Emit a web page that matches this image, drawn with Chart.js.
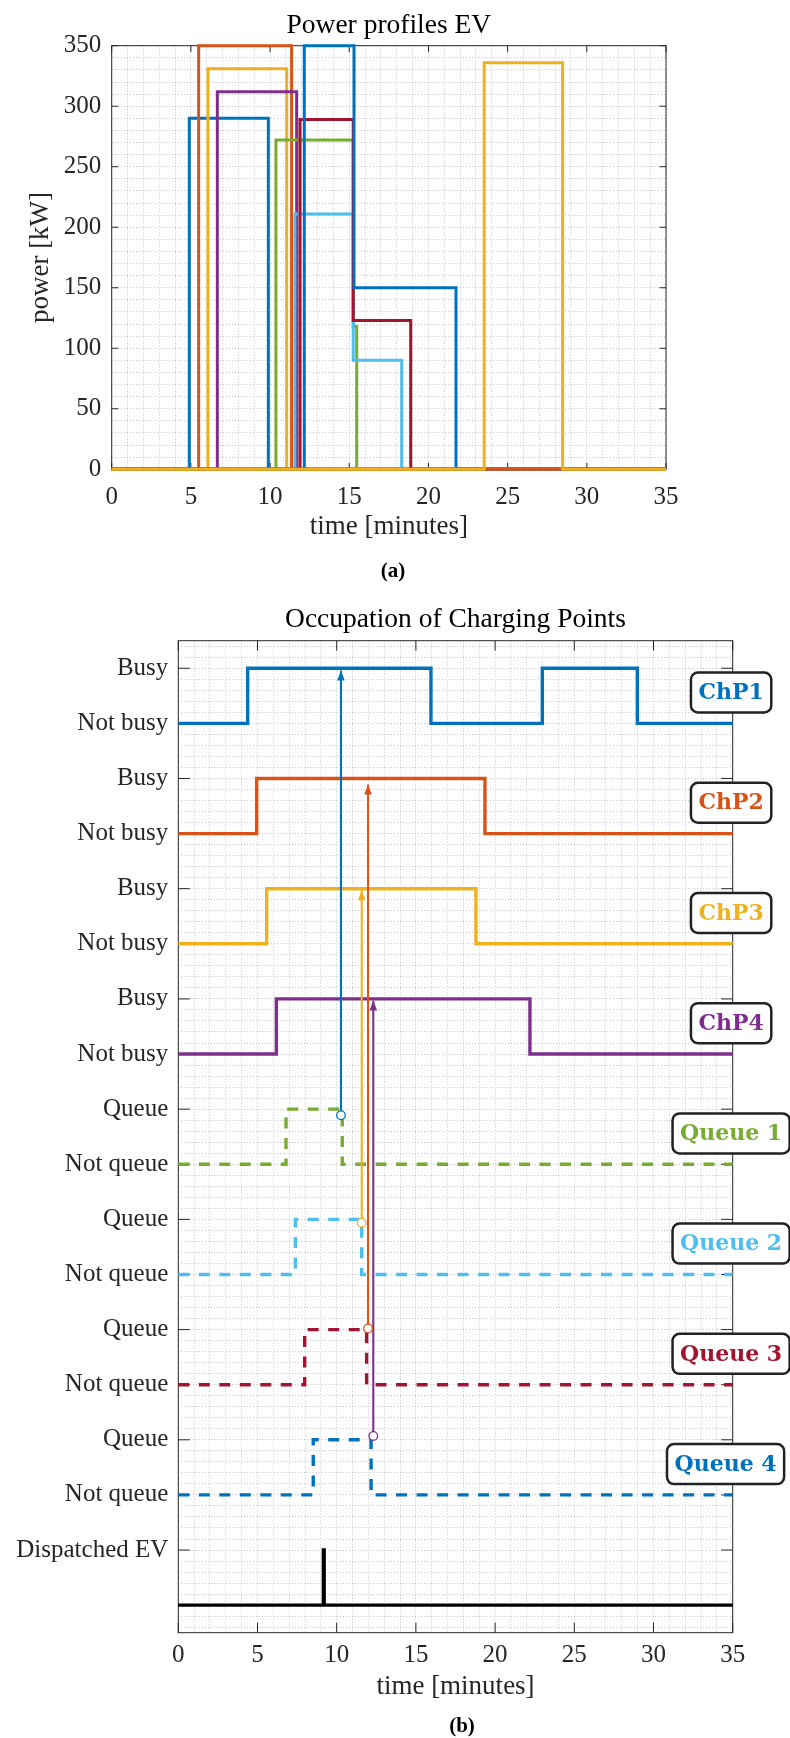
<!DOCTYPE html>
<html><head><meta charset="utf-8">
<script src="https://cdn.jsdelivr.net/npm/chart.js@4"></script>
<style>
html,body{margin:0;padding:0;background:#fff;}
#wrap{position:relative;width:790px;height:1738px;overflow:hidden;}
canvas{position:absolute;left:0;}
#c1{top:0;} #c2{top:590px;}
</style></head><body>
<div id="wrap"><canvas id="c1" width="790" height="590"></canvas><canvas id="c2" width="790" height="1148"></canvas></div>
<script>
// ---------------- data ----------------
const xMin = 0, xMax = 35;
const xMajorTicks = [0, 5, 10, 15, 20, 25, 30, 35];
const powerTicks = [0, 50, 100, 150, 200, 250, 300, 350];

// Power profiles: switching times (minutes) and power levels (kW) per EV
const evSwitchTimes = [
  [4.90, 9.89],
  [5.49, 11.36],
  [6.08, 11.05],
  [6.67, 11.68],
  [10.37, 15.25, 15.47],
  [11.57, 15.25, 18.31],
  [11.89, 15.25, 18.88],
  [12.16, 15.30, 21.74],
  [],
  [23.52, 28.47]
];
const evPowerLevels = [
  [290], [350], [331], [312], [272, 118], [211, 90], [289, 123], [350, 150], [], [336]
];
const evColors = ['#0072BD','#D95319','#EDB120','#7E2F8E','#77AC30','#4DBEEE','#A2142F','#0072BD','#D95319','#EDB120'];

// Occupation chart
const stateNames = ['ChP1','ChP2','ChP3','ChP4','Queue 1','Queue 2','Queue 3','Queue 4','Dispatched EV'];
const stateSwitchTimes = [
  [4.38, 15.95, 22.98, 28.98],
  [4.95, 19.36],
  [5.58, 18.79],
  [6.19, 22.20],
  [6.80, 10.35],
  [7.39, 11.58],
  [7.98, 11.89],
  [8.52, 12.17],
  [9.16, 9.21]
];
const stateLowLevels = [16, 14, 12, 10, 8, 6, 4, 2, 0];
const stateDashed = [false, false, false, false, true, true, true, true, false];
const stateColors = ['#0072BD','#D95319','#EDB120','#7E2F8E','#77AC30','#4DBEEE','#A2142F','#0072BD','#000000'];
const occTickValues = [1,2,3,4,5,6,7,8,9,10,11,12,13,14,15,16,17];
const occTickLabels = ['Dispatched EV','Not queue','Queue','Not queue','Queue','Not queue','Queue','Not queue','Queue',
  'Not busy','Busy','Not busy','Busy','Not busy','Busy','Not busy','Busy'];
const arrowTimes = [10.27, 11.98, 11.58, 12.31];
const arrowFrom  = [8.89, 5.02, 6.94, 3.07];
const arrowTo    = [16.96, 14.89, 12.97, 10.97];
const arrowColors = ['#0072BD','#D95319','#EDB120','#7E2F8E'];
const boxLabels = ['ChP1','ChP2','ChP3','ChP4','Queue 1','Queue 2','Queue 3','Queue 4'];
const boxTimes  = [34.9, 34.9, 34.9, 34.9, 34.9, 34.9, 34.9, 34.55];

// ---------------- helpers ----------------
const AXIS = '#262626';
const GRID = 'rgba(0,0,0,0.22)';
const SERIF = '"Liberation Serif", "Times New Roman", serif';
const xGrid = Array.from({length: 36}, (_, i) => i);
const yGridTop = Array.from({length: 36}, (_, i) => i * 10);
const yGridOcc = Array.from({length: 90}, (_, i) => Math.round((i - 2) * 2) / 10);

function evPoints(times, levels) {
  const pts = [{x: xMin, y: 0}];
  if (times.length) {
    pts.push({x: times[0], y: 0});
    for (let k = 0; k < levels.length; k++) {
      pts.push({x: times[k], y: levels[k]});
      pts.push({x: times[k + 1], y: levels[k]});
    }
    pts.push({x: times[times.length - 1], y: 0});
  }
  pts.push({x: xMax, y: 0});
  return pts;
}
function statePoints(times, low) {
  let lvl = low;
  const pts = [{x: xMin, y: lvl}];
  for (const t of times) {
    pts.push({x: t, y: lvl});
    lvl = (lvl === low) ? low + 1 : low;
    pts.push({x: t, y: lvl});
  }
  pts.push({x: xMax, y: lvl});
  return pts;
}

function framePlugin(xMaj, yMaj, tl, tlx) {
  return {
    id: 'frame',
    beforeDatasetsDraw(chart) {
      const {ctx, chartArea: a} = chart;
      const xs = chart.scales.x, ys = chart.scales.y;
      ctx.save();
      ctx.strokeStyle = AXIS; ctx.lineWidth = 1;
      ctx.strokeRect(a.left, a.top, a.right - a.left, a.bottom - a.top);
      ctx.beginPath();
      for (const v of xMaj) {
        const p = xs.getPixelForValue(v);
        ctx.moveTo(p, a.bottom); ctx.lineTo(p, a.bottom - tlx);
        ctx.moveTo(p, a.top); ctx.lineTo(p, a.top + tlx);
      }
      for (const v of yMaj) {
        const p = ys.getPixelForValue(v);
        ctx.moveTo(a.left, p); ctx.lineTo(a.left + tl, p);
        ctx.moveTo(a.right, p); ctx.lineTo(a.right - tl, p);
      }
      ctx.stroke();
      ctx.restore();
    }
  };
}
function textPlugin(cfg) {
  return {
    id: 'texts',
    afterDraw(chart) {
      const {ctx, chartArea: a} = chart;
      const cx = (a.left + a.right) / 2;
      ctx.save();
      ctx.fillStyle = '#000';
      ctx.textAlign = 'center';
      ctx.textBaseline = 'alphabetic';
      ctx.font = '27.5px ' + SERIF;
      ctx.fillText(cfg.title, cx, cfg.titleY);
      ctx.fillStyle = AXIS;
      ctx.font = '27px ' + SERIF;
      ctx.fillText(cfg.xTitle, cx, cfg.xTitleY);
      if (cfg.yTitle) {
        ctx.save();
        ctx.translate(cfg.yTitleX, (a.top + a.bottom) / 2);
        ctx.rotate(-Math.PI / 2);
        ctx.textBaseline = 'middle';
        ctx.fillText(cfg.yTitle, 0, 0);
        ctx.restore();
      }
      ctx.fillStyle = '#000';
      ctx.font = 'bold 21px ' + SERIF;
      ctx.fillText(cfg.caption, cfg.captionX, cfg.captionY);
      ctx.restore();
    }
  };
}

const tickFont = {family: SERIF, size: 25};

// ---------------- chart (a) ----------------
new Chart(document.getElementById('c1'), {
  type: 'line',
  data: {
    datasets: evSwitchTimes.map((t, i) => ({
      data: evPoints(t, evPowerLevels[i]),
      borderColor: evColors[i], borderWidth: 3,
      pointRadius: 0, fill: false, clip: false, order: -i
    }))
  },
  options: {
    responsive: false, animation: false, devicePixelRatio: 1,
    layout: {padding: {left: 0, right: 124, top: 45.7, bottom: 0}},
    plugins: {legend: {display: false}, tooltip: {enabled: false}, title: {display: false}},
    scales: {
      x: {
        type: 'linear', min: xMin, max: xMax,
        afterBuildTicks: s => { s.ticks = xGrid.map(v => ({value: v})); },
        afterFit: s => { s.height = 590 - 469.3; },
        ticks: {autoSkip: false, maxRotation: 0, padding: 13.4, font: tickFont, color: AXIS,
          callback: v => xMajorTicks.includes(v) ? String(v) : ''},
        grid: {color: GRID, lineWidth: 1, drawTicks: false},
        border: {display: false, dash: [1, 2]}
      },
      y: {
        type: 'linear', min: 0, max: 350,
        afterBuildTicks: s => { s.ticks = yGridTop.map(v => ({value: v})); },
        afterFit: s => { s.width = 111.7; },
        ticks: {autoSkip: false, padding: 10.4, font: tickFont, color: AXIS,
          callback: v => powerTicks.includes(v) ? String(v) : ''},
        grid: {color: GRID, lineWidth: 1, drawTicks: false},
        border: {display: false, dash: [1, 2]}
      }
    }
  },
  plugins: [framePlugin(xMajorTicks, powerTicks, 6.5, 6.5),
    textPlugin({title: 'Power profiles EV', titleY: 32.5, xTitle: 'time [minutes]', xTitleY: 534,
      yTitle: 'power [kW]', yTitleX: 41, caption: '(a)', captionX: 393, captionY: 577})]
});

// ---------------- chart (b) ----------------
const arrowHeadPlugin = {
  id: 'arrowHeads',
  afterDatasetsDraw(chart) {
    const ctx = chart.ctx;
    chart.data.datasets.forEach((ds, i) => {
      if (!ds.arrowHead) return;
      const meta = chart.getDatasetMeta(i);
      const tip = meta.data[meta.data.length - 1];
      ctx.save();
      ctx.fillStyle = ds.borderColor;
      ctx.beginPath();
      ctx.moveTo(tip.x, tip.y);
      ctx.lineTo(tip.x - 3.8, tip.y + 10);
      ctx.lineTo(tip.x + 3.8, tip.y + 10);
      ctx.closePath();
      ctx.fill();
      ctx.restore();
    });
  }
};
const boxPlugin = {
  id: 'boxes',
  afterDraw(chart) {
    const ctx = chart.ctx;
    const xs = chart.scales.x, ys = chart.scales.y;
    ctx.save();
    ctx.font = 'bold 22px "DejaVu Serif", serif';
    ctx.textAlign = 'center';
    ctx.textBaseline = 'middle';
    boxLabels.forEach((lab, i) => {
      const cx = xs.getPixelForValue(boxTimes[i]);
      const cy = ys.getPixelForValue(stateLowLevels[i] + 0.56);
      const w = ctx.measureText(lab).width + 15, h = 40;
      ctx.beginPath();
      ctx.roundRect(cx - w / 2, cy - h / 2, w, h, 7);
      ctx.fillStyle = '#fff';
      ctx.fill();
      ctx.lineWidth = 2.5;
      ctx.strokeStyle = '#222';
      ctx.stroke();
      ctx.fillStyle = stateColors[i];
      ctx.fillText(lab, cx, cy + 1);
    });
    ctx.restore();
  }
};

const occDatasets = stateSwitchTimes.map((t, i) => ({
  data: statePoints(t, stateLowLevels[i]),
  borderColor: stateColors[i], borderWidth: 3.4,
  borderDash: stateDashed[i] ? [11, 9.5] : [],
  pointRadius: 0, fill: false, clip: false, order: 1
}));
arrowTimes.forEach((t, i) => {
  occDatasets.push({
    data: [{x: t, y: arrowFrom[i]}, {x: t, y: arrowTo[i]}],
    borderColor: arrowColors[i], borderWidth: 2.1,
    pointRadius: [4.3, 0], pointBackgroundColor: '#fff', pointBorderColor: arrowColors[i], pointBorderWidth: 1.3,
    fill: false, clip: false, order: 0, arrowHead: true
  });
});

new Chart(document.getElementById('c2'), {
  type: 'line',
  data: {datasets: occDatasets},
  options: {
    responsive: false, animation: false, devicePixelRatio: 1,
    layout: {padding: {left: 0, right: 790 - 732.7, top: 50.7, bottom: 0}},
    plugins: {legend: {display: false}, tooltip: {enabled: false}, title: {display: false}},
    scales: {
      x: {
        type: 'linear', min: xMin, max: xMax,
        afterBuildTicks: s => { s.ticks = xGrid.map(v => ({value: v})); },
        afterFit: s => { s.height = 1148 - 1042.7; },
        ticks: {autoSkip: false, maxRotation: 0, padding: 8, font: tickFont, color: AXIS,
          callback: v => xMajorTicks.includes(v) ? String(v) : ''},
        grid: {color: GRID, lineWidth: 1, drawTicks: false},
        border: {display: false, dash: [1, 2]}
      },
      y: {
        type: 'linear', min: -0.5, max: 17.5,
        afterBuildTicks: s => { s.ticks = yGridOcc.map(v => ({value: v})); },
        afterFit: s => { s.width = 178.3; },
        ticks: {autoSkip: false, padding: 10, font: tickFont, color: AXIS,
          callback: v => { const k = occTickValues.indexOf(v); return k >= 0 ? occTickLabels[k] : ''; }},
        grid: {color: GRID, lineWidth: 1, drawTicks: false},
        border: {display: false, dash: [1, 2]}
      }
    }
  },
  plugins: [framePlugin(xMajorTicks, occTickValues, 11.5, 10), arrowHeadPlugin, boxPlugin,
    textPlugin({title: 'Occupation of Charging Points', titleY: 36.7, xTitle: 'time [minutes]', xTitleY: 1104,
      caption: '(b)', captionX: 462, captionY: 1141.5})]
});
</script>
</body></html>
